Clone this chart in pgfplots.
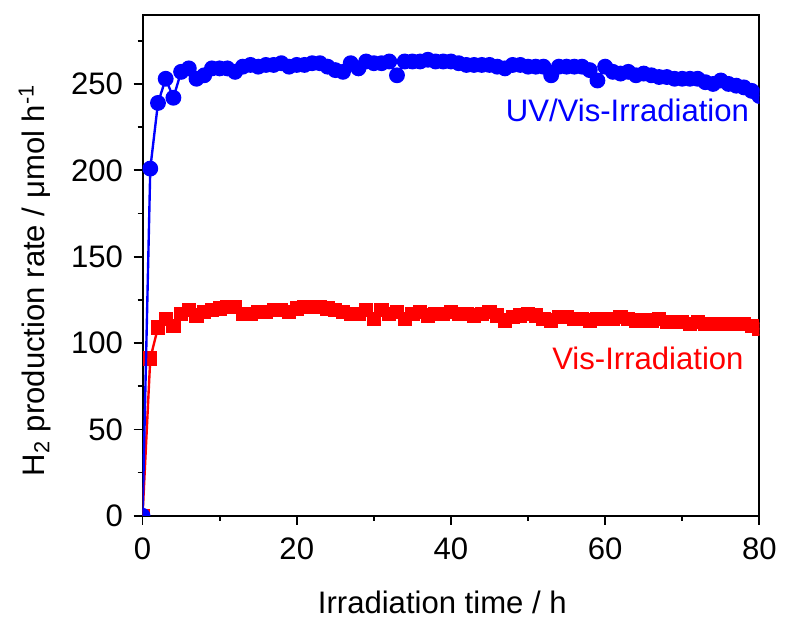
\documentclass[border=0pt]{standalone}
\usepackage{fontspec}
\setmainfont{Liberation Sans}
\usepackage{pgfplots}
\pgfplotsset{compat=1.18}
\begin{document}
\fontsize{15.7}{18}\selectfont
\begin{tikzpicture}
\begin{axis}[
  scale only axis,
  width=311.5pt, height=253pt,
  xmin=0, xmax=80, ymin=0, ymax=290,
  xtick={0,20,40,60,80}, ytick={0,50,100,150,200,250},
  minor xtick={10,30,50,70}, minor ytick={25,75,125,175,225,275},
  tick align=outside, xtick pos=left, ytick pos=left,
  major tick length=4.5pt, minor tick length=2.5pt,
  axis line style={line width=1pt}, every tick/.style={line width=0.9pt, black},
  clip marker paths=true,
  /pgf/number format/assume math mode=true,
  ticklabel style={font=\fontsize{15.7}{18}\selectfont},
  xticklabel style={yshift=-1pt},
  xlabel={Irradiation time / h},
  ylabel={H\textsubscript{2} production rate / μmol h\textsuperscript{-1}},
  xlabel style={at={(axis description cs:0.486,-0.172)}, anchor=center, font=\fontsize{15.7}{18}\selectfont},
  ylabel style={at={(axis description cs:-0.175,0.47)}, anchor=center, rotate=0, font=\fontsize{15.7}{18}\selectfont},
]
\addplot[color={rgb,255:red,255;green,0;blue,0}, line width=1.2pt, mark=square*, mark size=3pt, mark options={solid}] coordinates {
(0,0)(1,91)(2,109)(3,114)(4,110)(5,117)(6,119)(7,116)(8,118)(9,119)(10,120)
(11,121)(12,121)(13,117)(14,117)(15,118)(16,118)(17,119)(18,119)(19,118)(20,120)
(21,121)(22,121)(23,121)(24,120)(25,119)(26,118)(27,117)(28,117)(29,119)(30,114)
(31,119)(32,117)(33,118)(34,114)(35,117)(36,118)(37,116)(38,117)(39,117)(40,118)
(41,117)(42,117)(43,116)(44,117)(45,118)(46,116)(47,113)(48,115)(49,116)(50,117)
(51,116)(52,114)(53,113)(54,115)(55,115)(56,114)(57,114)(58,113)(59,114)(60,114)
(61,114)(62,115)(63,114)(64,113)(65,113)(66,113)(67,114)(68,112)(69,112)(70,112)
(71,111)(72,112)(73,111)(74,111)(75,111)(76,111)(77,111)(78,111)(79,110)(80,108)
};
\addplot[color={rgb,255:red,0;green,0;blue,255}, line width=1.2pt, mark=*, mark size=3.4pt, mark options={solid}] coordinates {
(0,0)(1,201)(2,239)(3,253)(4,242)(5,257)(6,259)(7,253)(8,255)(9,259)(10,259)
(11,259)(12,257)(13,260)(14,261)(15,260)(16,261)(17,261)(18,262)(19,260)(20,261)
(21,261)(22,262)(23,262)(24,260)(25,258)(26,257)(27,262)(28,259)(29,263)(30,262)
(31,262)(32,263)(33,255)(34,263)(35,263)(36,263)(37,264)(38,263)(39,263)(40,263)
(41,262)(42,261)(43,261)(44,261)(45,261)(46,260)(47,259)(48,261)(49,261)(50,260)
(51,260)(52,260)(53,255)(54,260)(55,260)(56,260)(57,260)(58,258)(59,252)(60,260)
(61,257)(62,256)(63,257)(64,255)(65,256)(66,255)(67,254)(68,254)(69,253)(70,253)
(71,253)(72,253)(73,251)(74,250)(75,252)(76,250)(77,249)(78,248)(79,246)(80,243)
};
\node[anchor=east, text={rgb,255:red,0;green,0;blue,255}, inner sep=0pt] at (axis cs:78.7,234.5) {UV/Vis-Irradiation};
\node[anchor=east, text={rgb,255:red,255;green,0;blue,0}, inner sep=0pt] at (axis cs:78.0,91.2) {Vis-Irradiation};
\end{axis}
\path (current axis.south west) ++(-72pt,-50.5pt) (current axis.north east) ++(10pt,7.5pt);
\end{tikzpicture}
\end{document}
